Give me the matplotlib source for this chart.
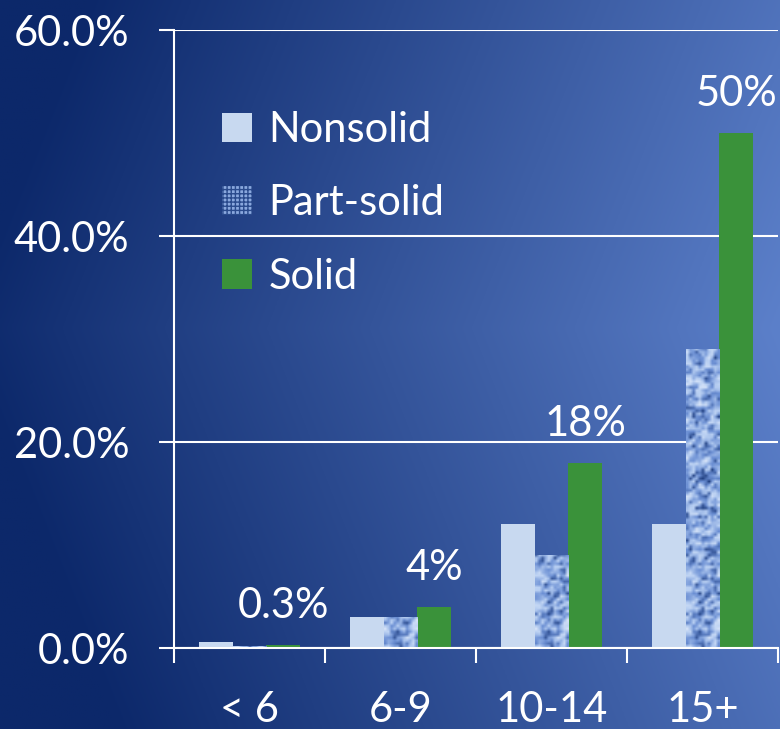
import numpy as np
import matplotlib.pyplot as plt
from matplotlib.patches import Patch
from matplotlib.colors import LinearSegmentedColormap

# datos
categorias = ['< 6', '6-9', '10-14', '15+']
nonsolid = [0.6, 3.0, 12.0, 12.0]
part_solid = [0.2, 3.0, 9.0, 29.0]
solid = [0.3, 4.0, 18.0, 50.0]
etiquetas_solid = ['0.3%', '4%', '18%', '50%']
yticks = [0, 20, 40, 60]

plt.rcParams['font.family'] = ['Lato', 'DejaVu Sans']
fs = 30

fig = plt.figure(figsize=(7.8, 7.29), dpi=100)

# fondo degradado azul
bg = fig.add_axes([0, 0, 1, 1], zorder=-10)
xx, yy = np.meshgrid(np.linspace(0, 1, 400), np.linspace(0, 1, 400))
f = 0.95 * xx - 0.35 * np.abs(yy - 0.45) + 0.05
f = np.clip(f, 0, 1)
oscuro = np.array([12, 40, 106]) / 255
claro = np.array([92, 128, 202]) / 255
img = oscuro + (claro - oscuro) * f[..., None]
bg.imshow(img, aspect='auto', extent=[0, 1, 0, 1], origin='upper')
bg.axis('off')

ax = fig.add_axes([0.2231, 0.1111, 0.7744, 0.8477])
ax.patch.set_alpha(0)

x = np.arange(len(categorias))
w = 0.222
ax.bar(x - w, nonsolid, w, color='#c8d9f0', zorder=3)
barras_ps = ax.bar(x, part_solid, w, color='#8aa8de', zorder=3)
ax.bar(x + w, solid, w, color='#3a923a', zorder=3)

# textura de la serie Part-solid
rng = np.random.default_rng(3)
tex = rng.random((210, 11))
tex = (tex + np.roll(tex, 1, axis=0) + np.roll(tex, 1, axis=1)) / 3
cmap_tex = LinearSegmentedColormap.from_list('tex', ['#1a3878', '#6a8ed3', '#b8cff2', '#dbe6f8'])
for b in barras_ps:
    x0, h = b.get_x(), b.get_height()
    if h <= 0:
        continue
    im = ax.imshow(tex, cmap=cmap_tex, aspect='auto', interpolation='bilinear',
                   extent=[x0, x0 + w, 0, 60], zorder=3.5)
    im.set_clip_path(b)

for xi, v, t in zip(x, solid, etiquetas_solid):
    ax.annotate(t, (xi + w, v), xytext=(0, 28), textcoords='offset points',
                ha='center', va='center', color='white', fontsize=fs)

ax.set_xlim(-0.5, 3.5)
ax.set_ylim(0, 60)
ax.set_yticks(yticks)
ax.set_yticklabels([f'{v:.1f}%' for v in yticks])
ax.set_xticks(x)
ax.set_xticklabels(categorias)
ax.set_xticks(np.arange(-0.5, 4, 1), minor=True)
ax.tick_params(axis='x', which='major', length=0, pad=31, labelsize=fs, colors='white')
ax.tick_params(axis='x', which='minor', length=11, width=1.5, color='white', direction='out')
ax.tick_params(axis='y', length=11, width=1.5, color='white', labelsize=fs,
               labelcolor='white', pad=21)
ax.grid(axis='y', color='white', lw=1.5, zorder=1)
for s in ['top', 'right']:
    ax.spines[s].set_visible(False)
for s in ['left', 'bottom']:
    ax.spines[s].set_color('white')
    ax.spines[s].set_linewidth(1.5)
    ax.spines[s].set_zorder(4)

handles = [Patch(facecolor='#c8d9f0', edgecolor='none'),
           Patch(facecolor='#8aa8de', edgecolor='#2a4a8c', hatch='++++', lw=0),
           Patch(facecolor='#3a923a', edgecolor='none')]
leg = ax.legend(handles, ['Nonsolid', 'Part-solid', 'Solid'], loc='upper left',
                bbox_to_anchor=(0.018, 0.93), frameon=False, fontsize=fs,
                labelcolor='white', handlelength=0.7, handleheight=0.7,
                handletextpad=0.4, labelspacing=0.85)

fig.savefig('out.png', dpi=100)
